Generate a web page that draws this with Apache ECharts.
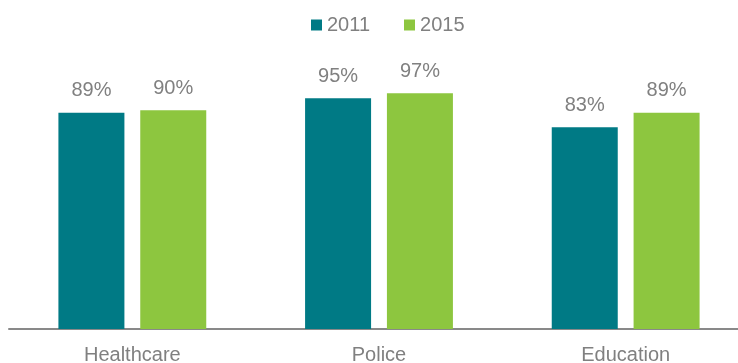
<!DOCTYPE html>
<html>
<head>
<meta charset="utf-8">
<script src="https://cdn.jsdelivr.net/npm/echarts@6/dist/echarts.min.js"></script>
<style>
  html, body { margin: 0; padding: 0; background: #fff; }
  #chart { width: 738px; height: 363px; }
</style>
</head>
<body>
<div id="chart"></div>
<script>
// Categories and yearly shares (percent)
const categories = ['Healthcare', 'Police', 'Education'];
const seriesNames = ['2011', '2015'];
const values2011 = [89, 95, 83];
const values2015 = [90, 97, 89];

const chart = echarts.init(document.getElementById('chart'), null, { renderer: 'canvas' });
const textGray = '#808080';
const fontFamily = 'Liberation Sans, Arial, sans-serif';

const labelStyle = {
  show: true,
  position: 'top',
  distance: 12,
  color: textGray,
  fontSize: 20,
  fontFamily: fontFamily,
  formatter: p => p.value + '%'
};

chart.setOption({
  animation: false,
  legend: {
    top: 15,
    left: 311,
    padding: 0,
    itemWidth: 11,
    itemHeight: 11,
    itemGap: 34,
    icon: 'rect',
    textStyle: { color: textGray, fontSize: 20, fontFamily: fontFamily },
    data: seriesNames
  },
  // the plot area runs slightly past the right edge of the canvas
  grid: { left: 9, width: 740, top: 86, bottom: 34, containLabel: false, outerBoundsMode: 'none' },
  xAxis: {
    type: 'category',
    data: categories,
    axisLine: { lineStyle: { color: '#898989', width: 2 } },
    axisTick: { show: false },
    axisLabel: { color: textGray, fontSize: 20, fontFamily: fontFamily, margin: 16 }
  },
  yAxis: {
    type: 'value',
    min: 0,
    max: 100,
    show: false,
    splitLine: { show: false }
  },
  series: [
    {
      name: seriesNames[0],
      type: 'bar',
      data: values2011,
      barWidth: 66,
      barGap: '24%',
      itemStyle: { color: '#007a85' },
      label: labelStyle
    },
    {
      name: seriesNames[1],
      type: 'bar',
      data: values2015,
      barWidth: 66,
      itemStyle: { color: '#8dc63f' },
      label: labelStyle
    }
  ]
});
</script>
</body>
</html>
